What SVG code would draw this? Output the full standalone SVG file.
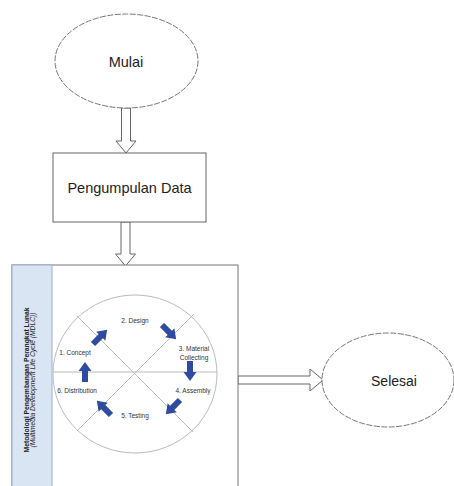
<svg xmlns="http://www.w3.org/2000/svg" width="454" height="486" viewBox="0 0 454 486">
<style>
.t{font-family:"Liberation Sans",Arial,sans-serif;fill:#222;text-anchor:middle;dominant-baseline:central}
.big{font-size:14.5px}
.sm{font-size:6.5px;fill:#333}
.shape{fill:#fff;stroke:#666;stroke-width:1}
.oval{fill:#fff;stroke:#777;stroke-width:1;stroke-dasharray:6 1.5}
.hollow{fill:#fff;stroke:#666;stroke-width:1}
.spoke{stroke:#bbb;stroke-width:1;fill:none}
.blue{fill:#2f4b9f}
</style>
<defs>
<path id="ba" d="M0,-3 L11,-3 L11,-6.5 L20,0 L11,6.5 L11,3 L0,3 Z"/>
</defs>
<rect width="454" height="486" fill="#fff"/>
<g id="connectors">
<path class="hollow" d="M121.5,108 H130.5 V141 H136 L126,153 L116,141 H121.5 Z"/>
<path class="hollow" d="M121,222 H130 V254 H135.5 L125.5,266 L115.5,254 H121 Z"/>
<path class="hollow" d="M238,376 H310 V369 L323,380 L310,391 V384 H238 Z"/>
</g>
<g id="mulai">
<ellipse class="oval" cx="126.5" cy="61" rx="71.5" ry="47"/>
<text class="t big" x="126" y="62">Mulai</text>
</g>
<g id="pengumpulan">
<rect class="shape" x="53" y="153" width="153" height="69"/>
<text class="t big" x="129.5" y="188">Pengumpulan Data</text>
</g>
<g id="mdlc">
<rect x="12" y="265" width="226" height="230" fill="#fff" stroke="#777" stroke-width="1"/>
<rect x="12" y="265" width="40" height="230" fill="#dae5f4" stroke="#9aaecb" stroke-width="1"/>
<text class="t" font-size="6.3" font-weight="bold" fill="#333" transform="translate(26,380) rotate(-90)" textLength="145" lengthAdjust="spacingAndGlyphs">Metodologi Pengembangan Perangkat Lunak</text>
<text class="t" font-size="6.3" font-style="italic" fill="#333" transform="translate(32,380) rotate(-90)" textLength="135" lengthAdjust="spacingAndGlyphs">(Multimedia Development Life Cycle (MDLC))</text>
<ellipse cx="135" cy="374" rx="82" ry="79" fill="#fff" stroke="#bbb" stroke-width="1"/>
<line class="spoke" x1="53" y1="372" x2="217" y2="372"/>
<line class="spoke" x1="77" y1="316" x2="193" y2="432"/>
<line class="spoke" x1="194" y1="314" x2="77" y2="431"/>
<text class="t sm" x="135" y="320">2. Design</text>
<text class="t sm" x="194" y="348">3. Material</text>
<text class="t sm" x="194" y="357">Collecting</text>
<text class="t sm" x="75" y="352">1. Concept</text>
<text class="t sm" x="77" y="390">6. Distribution</text>
<text class="t sm" x="193" y="390">4. Assembly</text>
<text class="t sm" x="135" y="415">5. Testing</text>
<use href="#ba" class="blue" transform="translate(93,344) rotate(-45)"/>
<use href="#ba" class="blue" transform="translate(162,325) rotate(45)"/>
<use href="#ba" class="blue" transform="translate(190,361) rotate(90)"/>
<use href="#ba" class="blue" transform="translate(180,400) rotate(135)"/>
<use href="#ba" class="blue" transform="translate(111,415) rotate(-135)"/>
<use href="#ba" class="blue" transform="translate(85,382) rotate(-90)"/>
</g>
<g id="selesai">
<ellipse class="oval" cx="388" cy="380" rx="66" ry="47"/>
<text class="t big" x="394" y="381" style="font-size:14px">Selesai</text>
</g>
</svg>
